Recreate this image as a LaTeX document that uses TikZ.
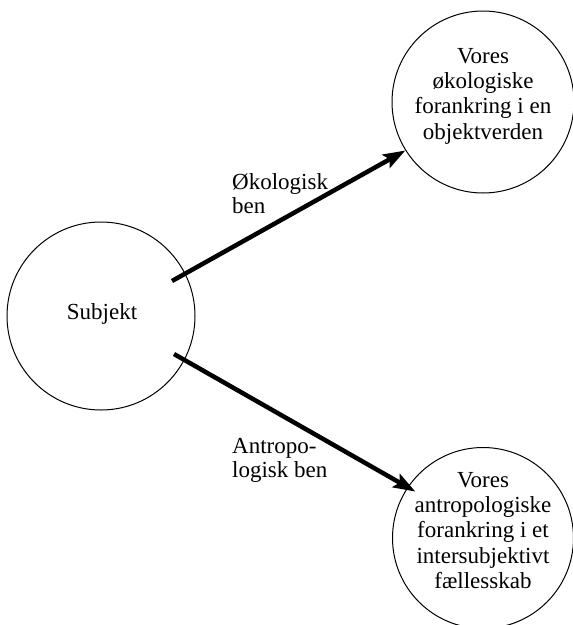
\documentclass[tikz,border=0pt]{standalone}
\usepackage{fontspec}
\setmainfont{Liberation Serif}
\usetikzlibrary{arrows.meta}
\begin{document}
\begin{tikzpicture}[x=1pt,y=-1pt,
  bubble/.style={draw=black, line width=1pt, circle, inner sep=0pt},
  txt/.style={inner sep=0pt, align=center, font=\fontsize{23}{25.3}\selectfont},
  lbl/.style={inner sep=0pt, align=left, anchor=north west, font=\fontsize{23}{24.5}\selectfont},
  arr/.style={line width=4.5pt, -{Stealth[length=22pt,width=15pt,inset=4pt]}}]
\useasboundingbox (0,0) rectangle (573,625);
\node[bubble, minimum size=188pt] (subj) at (101,316) {};
\node[bubble, minimum size=182pt] (eco) at (483,102) {};
\node[bubble, minimum size=181pt] (bot) at (483,538) {};
\node[txt] (subjtxt) at (102,314) {Subjekt};
\node[txt] (ecotxt) at (483,96) {Vores\\økologiske\\forankring i en\\objektverden};
\node[txt] (bottxt) at (483,530.5) {Vores\\antropologiske\\forankring i et\\intersubjektivt\\fællesskab};
\node[lbl] (l1) at (232,173) {Økologisk\\ben};
\node[lbl] (l2) at (232,438) {Antropo-\\logisk ben};
\draw[arr] ([shift={(71,-35)}]subj.center) -- (eco.212);
\draw[arr, shorten >=-9pt] ([shift={(73,38)}]subj.center) -- (bot.146.5);
\end{tikzpicture}
\end{document}
